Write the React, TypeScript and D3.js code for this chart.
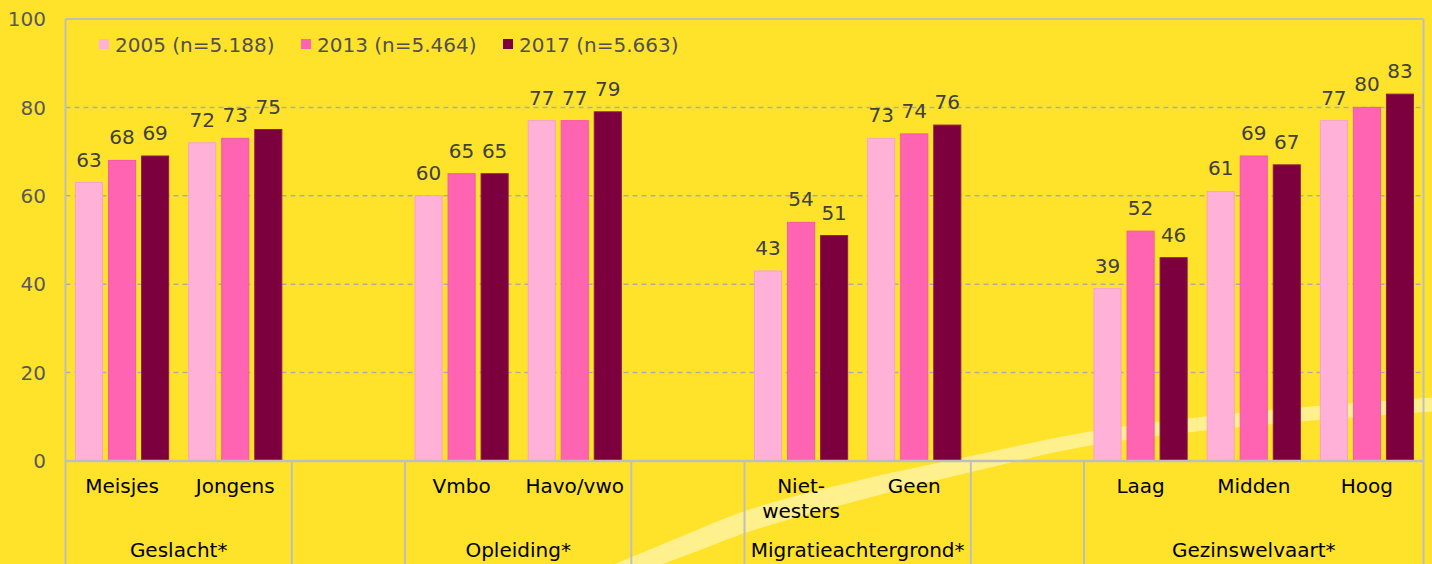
import React from "react";
import * as d3 from "d3";

const categories = ["Meisjes", "Jongens", "Vmbo", "Havo/vwo", "Niet-westers", "Geen", "Laag", "Midden", "Hoog"];
const categoryGroups = [
  "Geslacht*", "Geslacht*",
  "Opleiding*", "Opleiding*",
  "Migratieachtergrond*", "Migratieachtergrond*",
  "Gezinswelvaart*", "Gezinswelvaart*", "Gezinswelvaart*",
];
const groupNames = ["Geslacht*", "Opleiding*", "Migratieachtergrond*", "Gezinswelvaart*"];
const seriesNames = ["2005 (n=5.188)", "2013 (n=5.464)", "2017 (n=5.663)"];
const values2005 = [63, 72, 60, 77, 43, 73, 39, 61, 77];
const values2013 = [68, 73, 65, 77, 54, 74, 52, 69, 80];
const values2017 = [69, 75, 65, 79, 51, 76, 46, 67, 83];
const yTicks = [0, 20, 40, 60, 80, 100];

const W = 1432;
const H = 564;
const X0 = 65.5;
const X1 = 1423.5;
const Y_TOP = 19;
const Y_ZERO = 461;
const FONT = "'DejaVu Sans', Verdana, sans-serif";
const COLORS = ["#FFB1D8", "#FF64B2", "#7C003D"];
const STROKES = ["#F5A3CB", "#F25AA6", "#8E1A50"];
const BG = "#FFE32B";
const GRID = "#ABABAB";
const BORDER = "#BEBEBE";

export default function App() {
  const seriesValues = [values2005, values2013, values2017];

  // slots: categories with a spacer slot between groups
  const slots: { key: string; group: string | null }[] = [];
  groupNames.forEach((g, gi) => {
    categories.forEach((c, ci) => {
      if (categoryGroups[ci] === g) slots.push({ key: c, group: g });
    });
    if (gi < groupNames.length - 1) slots.push({ key: `__gap${gi}`, group: null });
  });

  const x = d3.scaleBand<string>().domain(slots.map((s) => s.key)).range([X0, X1]).padding(0);
  const step = x.bandwidth();
  const inner = d3
    .scaleBand<number>()
    .domain([0, 1, 2])
    .range([10, step - 10])
    .paddingInner(0.18)
    .paddingOuter(0);
  const y = d3.scaleLinear().domain([0, 100]).range([Y_ZERO, Y_TOP]);

  // cells below the axis: each group and each spacer slot
  const cells: { label: string; x0: number; x1: number }[] = [];
  let cur: { label: string; x0: number; x1: number } | null = null;
  slots.forEach((s) => {
    const label = s.group ?? "";
    const sx = x(s.key)!;
    if (cur && s.group !== null && cur.label === label) {
      cur.x1 = sx + step;
    } else {
      cur = { label, x0: sx, x1: sx + step };
      cells.push(cur);
    }
  });

  // decorative light band
  const upper: [number, number][] = [
    [596, 572], [680, 537], [748, 510], [860, 480], [971, 456], [1093, 431], [1250, 412], [1440, 397],
  ];
  const lower: [number, number][] = [
    [642, 572], [700, 550], [748, 532], [860, 500], [971, 472], [1093, 445], [1250, 426], [1440, 411],
  ];
  const lineGen = d3.line().curve(d3.curveCatmullRom.alpha(0.5));
  const bandPath =
    lineGen(upper)! + "L" + lineGen([...lower].reverse())!.slice(1) + "Z";

  const splitLabel = (s: string) => {
    const i = s.indexOf("-");
    if (i >= 0 && i < s.length - 1) return [s.slice(0, i + 1), s.slice(i + 1)];
    return [s];
  };

  const legendX = [99, 301, 503];

  return (
    <svg
      width={W}
      height={H}
      style={{ position: "absolute", left: 0, top: 0, display: "block" }}
      fontFamily={FONT}
    >
      <rect x={0} y={0} width={W} height={H} fill={BG} />
      <path d={bandPath} fill="#FFF08E" />

      {/* gridlines */}
      {yTicks
        .filter((t) => t > 0 && t < 100)
        .map((t) => (
          <line
            key={`g${t}`}
            x1={X0}
            x2={X1}
            y1={y(t)}
            y2={y(t)}
            stroke={GRID}
            strokeWidth={1.5}
            strokeDasharray="5,4"
          />
        ))}

      {/* frame */}
      <line x1={X0} x2={X1} y1={Y_TOP} y2={Y_TOP} stroke={BORDER} strokeWidth={2} />
      <line x1={X0} x2={X0} y1={Y_TOP} y2={H} stroke={BORDER} strokeWidth={2} />
      <line x1={X1} x2={X1} y1={Y_TOP} y2={H} stroke={BORDER} strokeWidth={2} />

      {/* y tick labels */}
      {yTicks.map((t) => (
        <text
          key={`t${t}`}
          x={46}
          y={y(t)}
          dy="0.36em"
          textAnchor="end"
          fontSize={20}
          fill="#595959"
        >
          {t}
        </text>
      ))}

      {/* bars */}
      {slots
        .filter((s) => s.group !== null)
        .map((s) => {
          const ci = categories.indexOf(s.key);
          return (
            <g key={s.key} transform={`translate(${x(s.key)},0)`}>
              {seriesValues.map((vals, si) => {
                const v = vals[ci];
                const bx = inner(si)!;
                const bw = inner.bandwidth();
                return (
                  <g key={si}>
                    <rect
                      x={bx}
                      y={y(v)}
                      width={bw}
                      height={Y_ZERO - y(v)}
                      fill={COLORS[si]}
                      stroke={STROKES[si]}
                      strokeWidth={1}
                    />
                    <text
                      x={bx + bw / 2}
                      y={y(v) - 16}
                      textAnchor="middle"
                      fontSize={20}
                      fill="#404040"
                    >
                      {v}
                    </text>
                  </g>
                );
              })}
            </g>
          );
        })}

      {/* axis line */}
      <line x1={X0} x2={X1} y1={Y_ZERO} y2={Y_ZERO} stroke={BORDER} strokeWidth={2.5} />

      {/* separators and group labels */}
      {cells.map((c, i) => (
        <g key={`c${i}`}>
          {i > 0 && (
            <line x1={c.x0} x2={c.x0} y1={Y_ZERO} y2={H} stroke={BORDER} strokeWidth={2} />
          )}
          {c.label && (
            <text x={(c.x0 + c.x1) / 2} y={557} textAnchor="middle" fontSize={20} fill="#000">
              {c.label}
            </text>
          )}
        </g>
      ))}

      {/* category labels */}
      {slots
        .filter((s) => s.group !== null)
        .map((s) => (
          <text
            key={`l${s.key}`}
            x={x(s.key)! + step / 2}
            y={493}
            textAnchor="middle"
            fontSize={20}
            fill="#000"
          >
            {splitLabel(s.key).map((ln, li) => (
              <tspan key={li} x={x(s.key)! + step / 2} dy={li === 0 ? 0 : 25}>
                {ln}
              </tspan>
            ))}
          </text>
        ))}

      {/* legend */}
      {seriesNames.map((n, i) => (
        <g key={n}>
          <rect x={legendX[i]} y={39} width={10} height={10} fill={COLORS[i]} />
          <text x={legendX[i] + 16} y={52} fontSize={20} fill="#505050">
            {n}
          </text>
        </g>
      ))}
    </svg>
  );
}
